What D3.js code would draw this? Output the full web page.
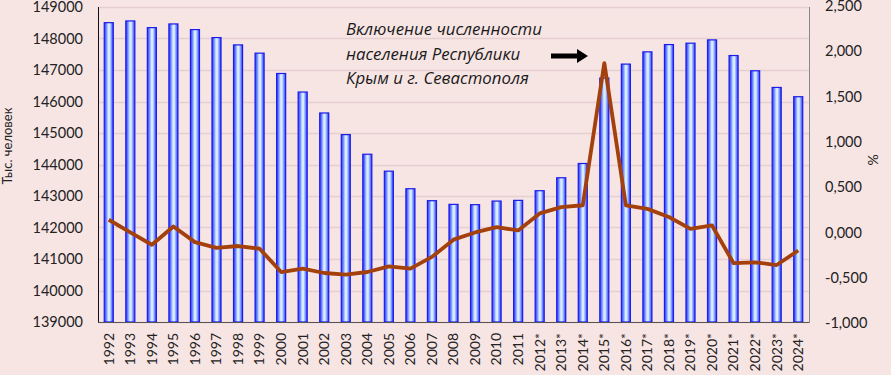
<!DOCTYPE html>
<html>
<head>
<meta charset="utf-8">
<script src="https://cdn.jsdelivr.net/npm/d3@7"></script>
<style>
  html, body { margin: 0; padding: 0; background: #f7e5e4; }
  svg { display: block; font-family: Lato, "Open Sans", sans-serif; }
</style>
</head>
<body>
<div id="chart"></div>
<script>
const years = ["1992", "1993", "1994", "1995", "1996", "1997", "1998", "1999", "2000", "2001",
  "2002", "2003", "2004", "2005", "2006", "2007", "2008", "2009", "2010", "2011",
  "2012*", "2013*", "2014*", "2015*", "2016*", "2017*", "2018*", "2019*", "2020*",
  "2021*", "2022*", "2023*", "2024*"];

// population, thousand people (left axis)
const population = [148503, 148557, 148345, 148462, 148282, 148029, 147797, 147535, 146889, 146301,
  145636, 144949, 144326, 143788, 143231, 142851, 142734, 142725, 142839, 142861,
  143168, 143579, 144032, 146744, 147187, 147576, 147807, 147851, 147956,
  147459, 146975, 146446, 146152];

// growth, % (right axis)
const growth = [0.14, 0.0, -0.136, 0.066, -0.107, -0.17, -0.15, -0.18, -0.437, -0.40,
  -0.448, -0.466, -0.437, -0.374, -0.40, -0.27, -0.08, 0.0, 0.058, 0.022,
  0.21, 0.28, 0.30, 1.87, 0.30, 0.26, 0.17, 0.04, 0.077,
  -0.34, -0.33, -0.36, -0.2];

const leftTicks = [139000, 140000, 141000, 142000, 143000, 144000, 145000, 146000, 147000, 148000, 149000];
const rightTicks = [-1, -0.5, 0, 0.5, 1, 1.5, 2, 2.5];
const noteLines = ["Включение численности", "населения Республики", "Крым и г. Севастополя"];

const width = 891, height = 375;
const plot = { left: 98, right: 809, top: 7, bottom: 322 };

const svg = d3.select("#chart").append("svg")
  .attr("width", width)
  .attr("height", height);

svg.append("rect").attr("width", width).attr("height", height).attr("fill", "#f7e5e4");

const x = d3.scaleBand()
  .domain(years)
  .range([plot.left, plot.right])
  .paddingInner(0.58)
  .paddingOuter(0.29);

const yL = d3.scaleLinear().domain([139000, 149000]).range([plot.bottom, plot.top]);
const yR = d3.scaleLinear().domain([-1, 2.5]).range([plot.bottom + 1, plot.top - 1]);

// bar gradient
const grad = svg.append("defs").append("linearGradient")
  .attr("id", "barGrad").attr("x1", "0").attr("x2", "1").attr("y1", "0").attr("y2", "0");
[["0%", "#2c2cff"], ["22%", "#6a86ff"], ["45%", "#d8ecff"], ["60%", "#d8ecff"], ["80%", "#7893ff"], ["100%", "#2c2cff"]]
  .forEach(([o, c]) => grad.append("stop").attr("offset", o).attr("stop-color", c));

// gridlines
svg.append("g")
  .selectAll("line")
  .data(leftTicks)
  .join("line")
  .attr("x1", plot.left)
  .attr("x2", plot.right)
  .attr("y1", (d) => Math.round(yL(d)) + 0.5)
  .attr("y2", (d) => Math.round(yL(d)) + 0.5)
  .attr("stroke", "#e6cfcf")
  .attr("stroke-width", 1.5);

// bars
svg.append("g")
  .selectAll("rect")
  .data(years)
  .join("rect")
  .attr("x", (d) => x(d))
  .attr("width", x.bandwidth())
  .attr("y", (d, i) => yL(population[i]))
  .attr("height", (d, i) => yL(139000) - yL(population[i]))
  .attr("fill", "url(#barGrad)")
  .attr("stroke", "#1c1ce8")
  .attr("stroke-width", 1.2);

// axes lines
svg.append("line")
  .attr("x1", plot.left + 0.5).attr("x2", plot.left + 0.5)
  .attr("y1", plot.top).attr("y2", plot.bottom + 1)
  .attr("stroke", "#111");
svg.append("line")
  .attr("x1", plot.left).attr("x2", plot.right)
  .attr("y1", plot.bottom + 0.5).attr("y2", plot.bottom + 0.5)
  .attr("stroke", "#555");
svg.append("line")
  .attr("x1", plot.right + 0.5).attr("x2", plot.right + 0.5)
  .attr("y1", plot.top).attr("y2", plot.bottom + 1)
  .attr("stroke", "#888");

// left axis labels
svg.append("g")
  .attr("transform", `translate(${plot.left},0)`)
  .call(d3.axisLeft(yL).tickValues(leftTicks).tickFormat(d3.format("d")).tickSize(0).tickPadding(15))
  .call((g) => g.select(".domain").remove())
  .call((g) => g.selectAll("text").attr("fill", "#222").attr("font-size", "14.5px").attr("font-family", "Lato, sans-serif"));

// right axis labels: "2,500", "0,500", "-1,000"
svg.append("g")
  .attr("transform", `translate(${plot.right},0)`)
  .call(d3.axisRight(yR).tickValues(rightTicks)
    .tickFormat((v) => (v < 0 ? "-" : "") + Math.abs(v).toFixed(3).replace(".", ","))
    .tickSize(0).tickPadding(16))
  .call((g) => g.select(".domain").remove())
  .call((g) => g.selectAll("text").attr("fill", "#222").attr("font-size", "14.5px").attr("font-family", "Lato, sans-serif"));

// x axis labels
svg.append("g")
  .attr("transform", `translate(0,${plot.bottom})`)
  .call(d3.axisBottom(x).tickSize(0).tickPadding(0))
  .call((g) => g.select(".domain").remove())
  .call((g) => g.selectAll("text")
    .attr("fill", "#222")
    .attr("font-size", "14px")
    .attr("font-family", "Lato, sans-serif")
    .attr("text-anchor", "end")
    .attr("transform", "rotate(-90)")
    .attr("x", -11)
    .attr("y", 0)
    .attr("dy", "0.35em"));

// growth line
const line = d3.line()
  .x((d, i) => x(years[i]) + x.bandwidth() / 2)
  .y((d) => yR(d));

svg.append("path")
  .datum(growth)
  .attr("d", line)
  .attr("fill", "none")
  .attr("stroke", "#a3400c")
  .attr("stroke-width", 3.8)
  .attr("stroke-linejoin", "round");

// axis titles
svg.append("text")
  .attr("transform", "translate(12,146) rotate(-90)")
  .attr("text-anchor", "middle")
  .attr("font-size", "13px")
  .attr("fill", "#222")
  .text("Тыс. человек");

svg.append("text")
  .attr("transform", "translate(878,160) rotate(-90)")
  .attr("text-anchor", "middle")
  .attr("font-size", "14px")
  .attr("fill", "#222")
  .text("%");

// annotation
svg.append("g")
  .selectAll("text")
  .data(noteLines)
  .join("text")
  .attr("x", 346)
  .attr("y", (d, i) => 35 + i * 24.5)
  .attr("font-family", "'Open Sans', sans-serif")
  .attr("font-size", "16.8px")
  .attr("font-style", "italic")
  .attr("fill", "#1a1a1a")
  .text((d) => d);

// arrow
svg.append("path")
  .attr("d", "M551,53.5 L577,53.5 L577,49 L588,56 L577,63 L577,58.5 L551,58.5 Z")
  .attr("fill", "#000");
</script>
</body>
</html>
